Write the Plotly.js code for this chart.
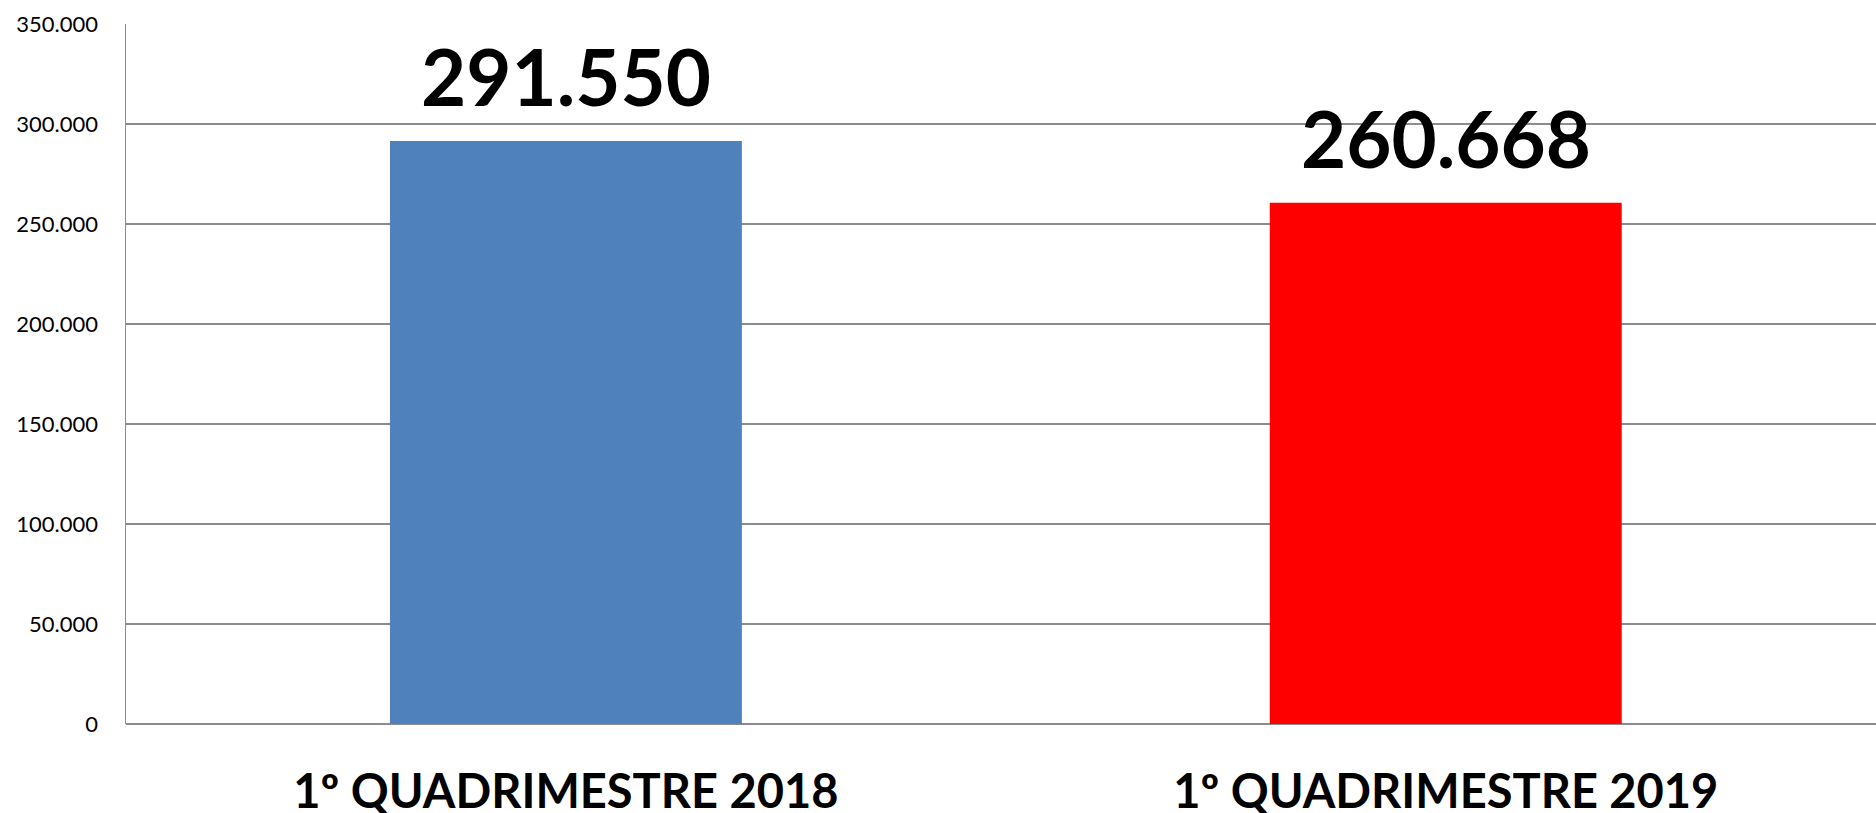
<!DOCTYPE html>
<html>
<head>
<meta charset="utf-8">
<script src="https://cdn.plot.ly/plotly-3.0.1.min.js"></script>
<style>
  html, body { margin: 0; padding: 0; background: #fff; }
  #chart { width: 1876px; height: 813px; }
</style>
</head>
<body>
<div id="chart"></div>
<script>
// quadrimestre comparison
const categories = ['1º QUADRIMESTRE 2018', '1º QUADRIMESTRE 2019'];
const values = [291550, 260668];
const barColors = ['#4F81BD', '#FF0000'];
const yTicks = [0, 50000, 100000, 150000, 200000, 250000, 300000, 350000];

// 291550 -> "291.550"
const fmt = v => String(v).replace(/\B(?=(\d{3})+(?!\d))/g, '.');

const trace = {
    x: categories,
    y: values,
    type: 'bar',
    marker: { color: barColors },
    hoverinfo: 'none'
};

// value labels sit a bit higher than plotly's outside text
const labels = categories.map((c, i) => ({
    x: c,
    y: values[i],
    xref: 'x',
    yref: 'y',
    text: fmt(values[i]),
    showarrow: false,
    yanchor: 'bottom',
    yshift: 16,
    font: { family: 'Lato, sans-serif', size: 78, color: '#000', weight: 'bold' }
}));

const layout = {
    width: 1876,
    height: 813,
    separators: ',.',
    paper_bgcolor: '#fff',
    plot_bgcolor: '#fff',
    margin: { l: 126, r: 0, t: 24, b: 89 },
    bargap: 0.6,
    showlegend: false,
    font: { family: 'Lato, sans-serif', color: '#000' },
    annotations: labels,
    xaxis: {
        range: [-0.5, 1.489],
        showgrid: false,
        zeroline: false,
        showline: false,
        ticks: '',
        ticklabelstandoff: 36,
        tickfont: { size: 47, weight: 'bold', color: '#000' }
    },
    yaxis: {
        range: [0, 350000],
        tickvals: yTicks,
        tickformat: ',d',
        showgrid: true,
        gridcolor: '#8c8c8c',
        gridwidth: 1.5,
        zeroline: true,
        zerolinecolor: '#8c8c8c',
        zerolinewidth: 1.5,
        showline: true,
        linecolor: '#8c8c8c',
        linewidth: 1.5,
        ticks: '',
        ticklabelstandoff: 22,
        tickfont: { size: 22, color: '#000' }
    }
};

Plotly.newPlot('chart', [trace], layout, { staticPlot: true });
</script>
</body>
</html>
